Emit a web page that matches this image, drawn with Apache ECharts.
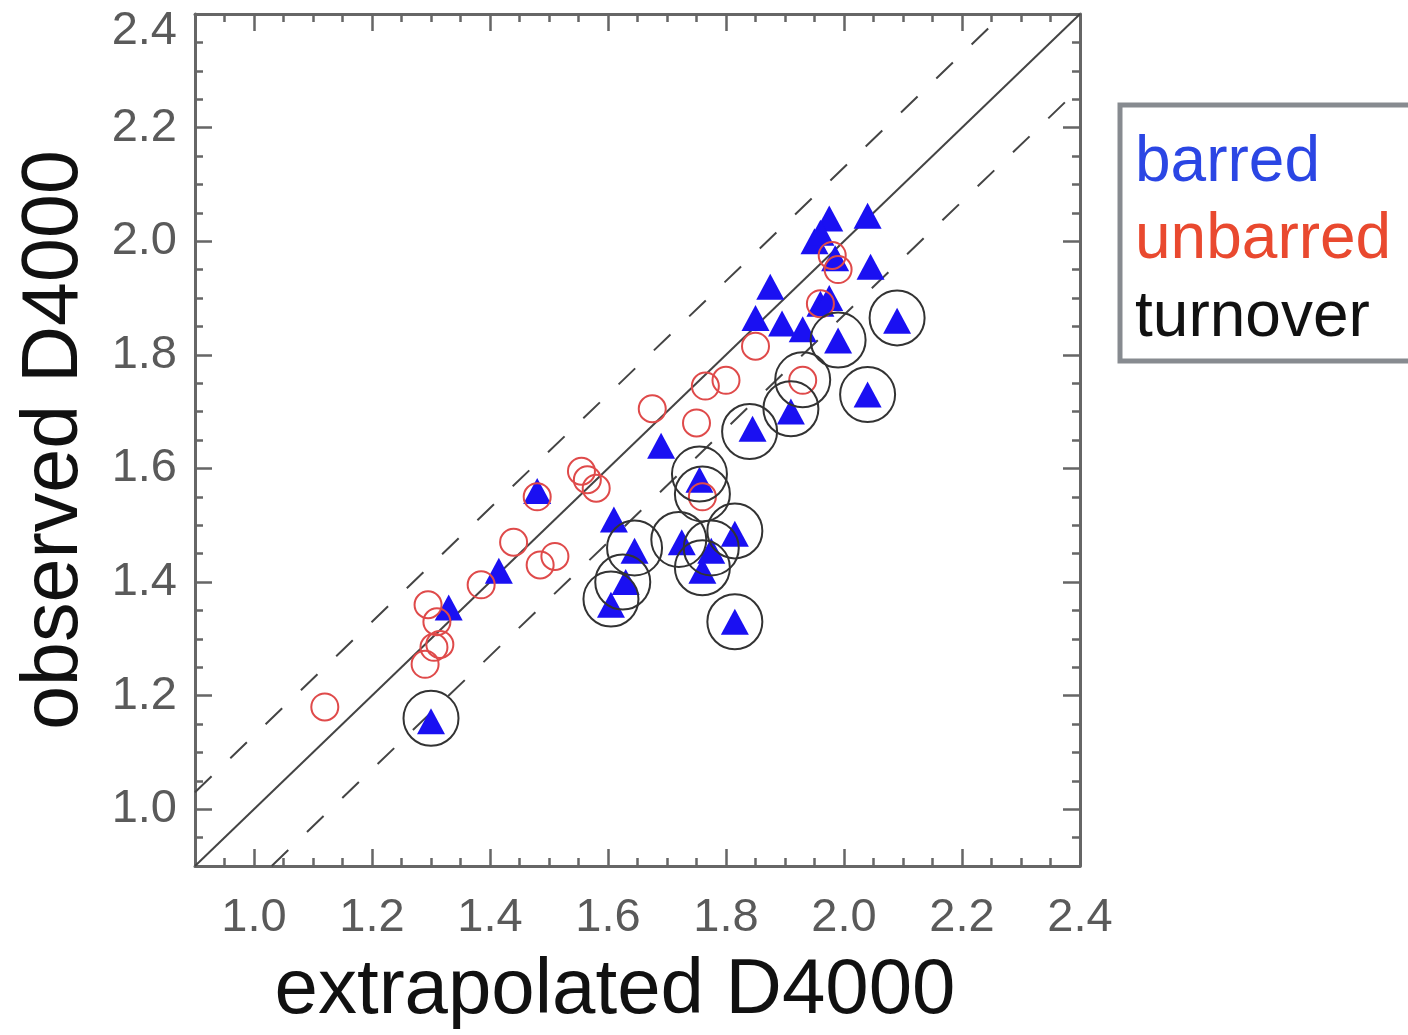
<!DOCTYPE html>
<html>
<head>
<meta charset="utf-8">
<script src="https://cdn.jsdelivr.net/npm/echarts@6/dist/echarts.min.js"></script>
<style>
  html, body { margin: 0; padding: 0; background: #ffffff; }
  #chart { width: 1408px; height: 1035px; }
</style>
</head>
<body>
<div id="chart"></div>
<script>
// Axis range and tick positions (same for both axes)
const axisMin = 0.9;
const axisMax = 2.4;
const majorTicks = [1.0, 1.2, 1.4, 1.6, 1.8, 2.0, 2.2, 2.4];
const minorStep = 0.05;

// Offset of the dashed band around the one-to-one line
const bandOffset = 0.13;

// [extrapolated D4000, observed D4000]
const barred = [
  [1.33, 1.355], [1.30, 1.155], [1.415, 1.42], [1.48, 1.56], [1.61, 1.51],
  [1.605, 1.36], [1.63, 1.40], [1.645, 1.455], [1.69, 1.64], [1.725, 1.47],
  [1.755, 1.58], [1.76, 1.42], [1.775, 1.455], [1.815, 1.485], [1.815, 1.33],
  [1.845, 1.67], [1.85, 1.865], [1.875, 1.92], [1.895, 1.855], [1.91, 1.70],
  [1.93, 1.845], [1.95, 2.00], [1.975, 2.04], [1.96, 2.015], [1.96, 1.89],
  [1.975, 1.90], [1.985, 1.97], [1.99, 1.825], [2.04, 2.045], [2.045, 1.955],
  [2.04, 1.73], [2.09, 1.86]
];

const unbarred = [
  [1.12, 1.18], [1.295, 1.36], [1.31, 1.33], [1.315, 1.29], [1.305, 1.285],
  [1.29, 1.255], [1.385, 1.395], [1.44, 1.47], [1.485, 1.43], [1.51, 1.445],
  [1.48, 1.55], [1.555, 1.595], [1.565, 1.58], [1.58, 1.565], [1.675, 1.705],
  [1.75, 1.68], [1.765, 1.745], [1.80, 1.755], [1.85, 1.815], [1.93, 1.755],
  [1.76, 1.55], [1.96, 1.89], [1.98, 1.975], [1.99, 1.95]
];

const turnover = [
  [1.30, 1.16], [1.605, 1.37], [1.625, 1.40], [1.645, 1.46], [1.72, 1.475],
  [1.755, 1.59], [1.76, 1.555], [1.775, 1.46], [1.76, 1.425], [1.815, 1.49],
  [1.815, 1.33], [1.84, 1.665], [1.91, 1.705], [1.93, 1.756], [1.99, 1.826],
  [2.04, 1.73], [2.09, 1.865]
];

const legendItems = [
  { text: 'barred', color: '#2b46e4' },
  { text: 'unbarred', color: '#e9492f' },
  { text: 'turnover', color: '#111111' }
];

const FONT = '"Liberation Sans", Arial, Helvetica, sans-serif';
const AXIS_COLOR = '#666666';
const LABEL_COLOR = '#5a5a5a';
const LABEL_SIZE = 47;

// Diagonal reference lines
const oneToOne = [[axisMin, axisMin], [axisMax, axisMax]];
const upperBand = [[axisMin, axisMin + bandOffset], [axisMax - bandOffset, axisMax]];
const lowerBand = [[axisMin + bandOffset, axisMin], [axisMax, axisMax - bandOffset]];

// Each side gets a "major" axis (frame line, long ticks, optional labels)
// and a "minor" axis (short ticks every 0.05).
function majorAxis(position, withLabels, isY, extra) {
  return Object.assign({
    type: 'value',
    position: position,
    min: axisMin,
    max: axisMax,
    axisLine: { show: true, onZero: false, lineStyle: { color: AXIS_COLOR, width: 3 } },
    axisTick: {
      show: true, inside: true, length: 17, customValues: majorTicks,
      lineStyle: { color: AXIS_COLOR, width: 2.5 }
    },
    axisLabel: {
      show: withLabels,
      customValues: majorTicks,
      margin: isY ? 18 : 29,
      color: LABEL_COLOR,
      fontFamily: FONT,
      fontSize: LABEL_SIZE,
      showMinLabel: true,
      showMaxLabel: true,
      formatter: function (v) {
        const s = Number(v).toFixed(1);
        return (isY && Math.abs(v - axisMax) < 1e-6) ? '{top|' + s + '}' : s;
      },
      rich: {
        top: {
          color: LABEL_COLOR, fontFamily: FONT, fontSize: LABEL_SIZE,
          padding: [34, 0, 0, 0]
        }
      }
    },
    splitLine: { show: false },
    minorTick: { show: false },
    minorSplitLine: { show: false }
  }, extra || {});
}

function minorAxis(position) {
  return {
    type: 'value',
    position: position,
    min: axisMin,
    max: axisMax,
    interval: minorStep,
    axisLine: { show: false, onZero: false },
    axisTick: { show: true, inside: true, length: 8, lineStyle: { color: AXIS_COLOR, width: 2.5 } },
    axisLabel: { show: false },
    splitLine: { show: false }
  };
}

const chart = echarts.init(document.getElementById('chart'), null, { renderer: 'canvas' });

const option = {
  animation: false,
  backgroundColor: '#ffffff',
  grid: {
    left: 195, top: 14, width: 885, height: 852,
    containLabel: false,
    outerBoundsMode: 'none'
  },
  xAxis: [
    majorAxis('bottom', true, false, {
      name: 'extrapolated D4000',
      nameLocation: 'middle',
      nameGap: 86,
      nameMoveOverlap: false,
      nameTextStyle: { fontFamily: FONT, fontSize: 78, color: '#111111', padding: [0, 45, 0, 0] }
    }),
    minorAxis('bottom'),
    majorAxis('top', false, false),
    minorAxis('top')
  ],
  yAxis: [
    majorAxis('left', true, true, {
      name: 'observed D4000',
      nameLocation: 'middle',
      nameGap: 100,
      nameMoveOverlap: false,
      nameTextStyle: { fontFamily: FONT, fontSize: 79, color: '#111111' }
    }),
    minorAxis('left'),
    majorAxis('right', false, true),
    minorAxis('right')
  ],
  series: [
    {
      type: 'line', data: oneToOne, symbol: 'none', silent: true,
      lineStyle: { color: '#444444', width: 2 }, z: 1
    },
    {
      type: 'line', data: upperBand, symbol: 'none', silent: true,
      lineStyle: { color: '#444444', width: 2, type: [23, 26] }, z: 1
    },
    {
      type: 'line', data: lowerBand, symbol: 'none', silent: true,
      lineStyle: { color: '#444444', width: 2, type: [23, 26] }, z: 1
    },
    {
      name: 'barred', type: 'scatter', data: barred,
      symbol: 'triangle', symbolSize: [28, 26],
      itemStyle: { color: '#1a10f2', opacity: 1 }, z: 2
    },
    {
      name: 'unbarred', type: 'scatter', data: unbarred,
      symbol: 'circle', symbolSize: 27,
      itemStyle: { color: 'rgba(0,0,0,0)', borderColor: '#df4a4a', borderWidth: 2, opacity: 1 }, z: 3
    },
    {
      name: 'turnover', type: 'scatter', data: turnover,
      symbol: 'circle', symbolSize: 55,
      itemStyle: { color: 'rgba(0,0,0,0)', borderColor: '#333333', borderWidth: 2, opacity: 1 }, z: 4
    }
  ],
  graphic: [
    {
      type: 'rect',
      shape: { x: 1120, y: 105, width: 320, height: 256 },
      style: { fill: '#ffffff', stroke: '#878b90', lineWidth: 5 },
      z: 10
    }
  ].concat(legendItems.map(function (item, i) {
    return {
      type: 'text',
      x: 1135,
      y: 163 + i * 77.5,
      style: {
        text: item.text,
        fill: item.color,
        font: '64px ' + FONT,
        verticalAlign: 'middle',
        align: 'left'
      },
      z: 11
    };
  }))
};

chart.setOption(option);
</script>
</body>
</html>
